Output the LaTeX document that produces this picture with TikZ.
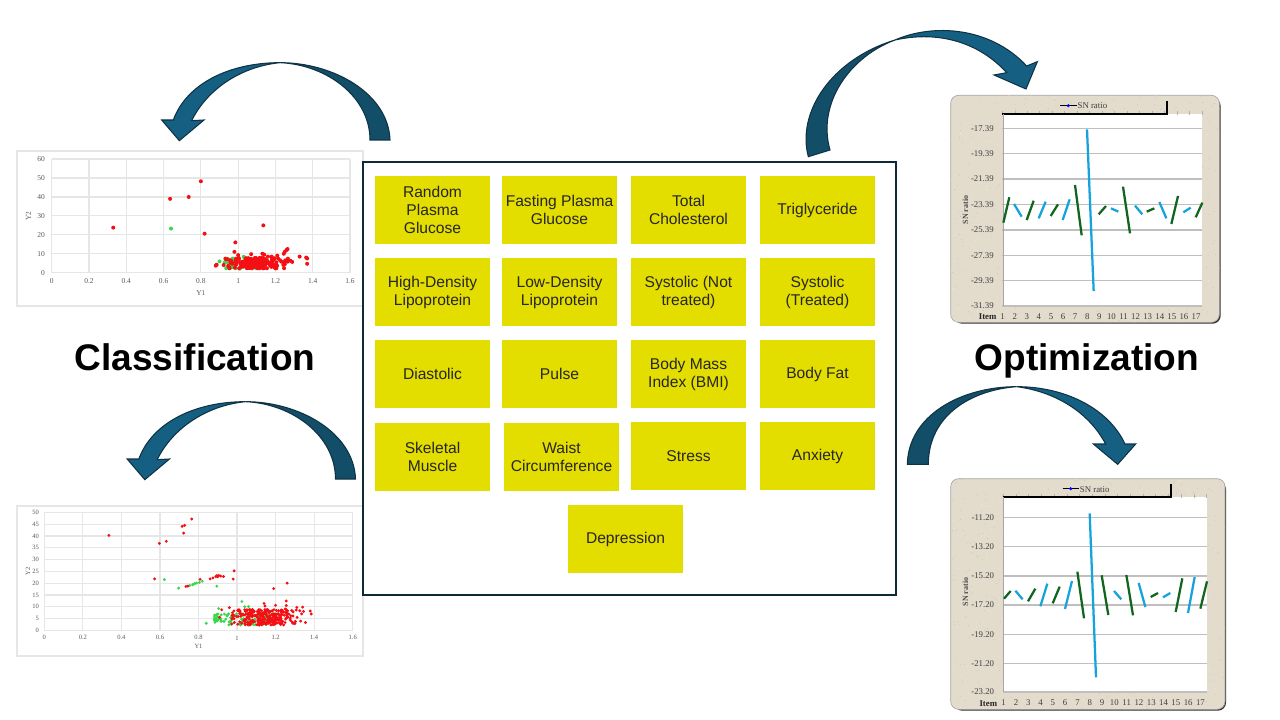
\documentclass[tikz,border=0pt]{standalone}
\usepackage{fontspec}
\setmainfont{Liberation Serif}
\newfontfamily\boxfont{Liberation Sans}
\definecolor{boxy}{HTML}{E3DD00}
\definecolor{framec}{HTML}{0E2A36}
\definecolor{arrowa}{HTML}{156082}
\definecolor{arrowb}{HTML}{134E69}
\definecolor{arrowe}{HTML}{0F3344}
\definecolor{beige}{HTML}{E3DBCC}
\definecolor{sng}{HTML}{11661F}
\definecolor{snb}{HTML}{16A3DC}
\definecolor{gridc}{HTML}{E6E6E6}
\definecolor{ptr}{HTML}{F50F14}
\definecolor{ptg}{HTML}{35D84A}
\tikzset{
  x=0.75pt,y=-0.75pt,
  itembox/.style={fill=boxy,draw=none,minimum width=86.25pt,minimum height=51pt,inner sep=0pt,align=center,text=black!85,
    font=\boxfont\fontsize{11.7}{13.5}\selectfont},
  bigtitle/.style={font=\boxfont\bfseries\fontsize{27.8}{30}\selectfont,text=black,inner sep=0pt,anchor=base},
  arrowhalf/.style={draw=arrowe,line width=0.8pt,line join=miter},
  chartframe/.style={fill=white,draw=gridc,line width=0.8pt},
  gridl/.style={draw=gridc,line width=0.9pt},
  ticklab/.style={font=\fontsize{5.6}{7}\selectfont,text=black!65,inner sep=0pt},
  ticklabb/.style={font=\fontsize{4.9}{6}\selectfont,text=black!65,inner sep=0pt},
  snlab/.style={font=\fontsize{6.6}{7}\selectfont,text=black!75,inner sep=0pt},
  snbold/.style={font=\bfseries\fontsize{6.6}{7}\selectfont,text=black!85,inner sep=0pt},
  snaxis/.style={font=\bfseries\fontsize{6}{7}\selectfont,text=black!70,inner sep=0pt,rotate=90},
  snseg/.style={line width=1.7pt},
  sngrid/.style={draw=black!25,line width=0.8pt},
  zoomed/.style={x=0.25pt,y=-0.25pt},
  redpt/.style={fill=ptr,draw=none},
  greenpt/.style={fill=ptg,draw=none},
}
\newcommand{\speckle}[5]{% x0 y0 w h seed
  \pgfmathsetseed{#5}
  \foreach \k in {1,...,900}{
    \pgfmathsetmacro\sx{#1+#3*rnd}
    \pgfmathsetmacro\sy{#2+#4*rnd}
    \pgfmathsetmacro\sc{rnd<0.5?1:0}
    \ifdim\sc pt>0.5pt
      \fill[black!12!beige] (\sx,\sy) circle (0.35pt);
    \else
      \fill[white!35!beige] (\sx,\sy) circle (0.4pt);
    \fi
  }
}
\begin{document}
\begin{tikzpicture}
\useasboundingbox (0,0) rectangle (1280,720);
\fill[white] (0,0) rectangle (1280,720);

% ---------- scatter chart 1
\node[chartframe,minimum width=259.5pt,minimum height=116.25pt,inner sep=0pt] (c1) at (190,228.5) {};
\begin{scope}[shift={(51.7,272.7)},x=139.83pt,y=1.42pt]
  \foreach \v in {0,0.2,...,1.6} \draw[gridl] (\v,0) -- (\v,60);
  \foreach \v in {0,10,...,60} \draw[gridl] (0,\v) -- (1.6,\v);
  \foreach \v/\n in {0/a0,0.2/a1,0.4/a2,0.6/a3,0.8/a4,1/a5,1.2/a6,1.4/a7,1.6/a8}
    \node[ticklab] (cax\n) at (\v,-4.6) {\v};
  \foreach \v in {0,10,...,60}
    \node[ticklab,anchor=east] (cay\v) at (-0.035,\v) {\v};
  \node[ticklab] (caxt) at (0.8,-11) {Y1};
  \node[ticklab,rotate=90] (cayt) at (-0.125,30) {Y2};
  \pgfmathsetseed{11}
  \foreach \k in {1,...,35}{
    \pgfmathsetmacro\px{0.92+0.2*rnd}\pgfmathsetmacro\py{2+5.8*rnd}
    \fill[greenpt] (\px,\py) circle (1.5pt);}
  \foreach \px/\py in {0.64/23.3,0.9/6,0.97/7.5,1.01/2.2,1.03/8.4}
    \fill[greenpt] (\px,\py) circle (1.5pt);
  \foreach \k in {1,...,170}{
    \pgfmathsetmacro\px{0.92+0.36*(rnd+rnd)/2}\pgfmathsetmacro\py{2.3+5.6*rnd}
    \fill[redpt] (\px,\py) circle (1.5pt);}
  \foreach \px/\py in {0.33/23.8,0.635/39,0.735/40,0.8/48.3,0.82/20.6,1.135/25,0.985/16,0.98/11,1.26/12,1.25/11,1.245/10,1.33/8.5,1.365/8,1.37/7.5,1.37/4.7,1.07/9.8,1.13/10,1.14/9.5,1/9.3,1.21/9,1.16/8.5,1.18/8.5,1.265/12.5,0.88/3.7,0.885/4.2,1.29/5.7,1.28/6.3,1.265/5.8,1.25/4.5}
    \fill[redpt] (\px,\py) circle (1.5pt);
\end{scope}

% ---------- scatter chart 2
\node[chartframe,minimum width=259.5pt,minimum height=112.5pt,inner sep=0pt] (c2) at (190,581) {};
\begin{scope}[shift={(44.3,630.3)},x=144.56pt,y=1.77pt]
  \foreach \v in {0,0.2,...,1.6} \draw[gridl] (\v,0) -- (\v,50);
  \foreach \v in {0,5,...,50} \draw[gridl] (0,\v) -- (1.6,\v);
  \foreach \v/\n in {0/a0,0.2/a1,0.4/a2,0.6/a3,0.8/a4,1/a5,1.2/a6,1.4/a7,1.6/a8}
    \node[ticklabb] (cbx\n) at (\v,-3.2) {\v};
  \foreach \v in {0,5,...,50}
    \node[ticklabb,anchor=east] (cby\v) at (-0.027,\v) {\v};
  \node[ticklabb] (cbxt) at (0.8,-7) {Y1};
  \node[ticklabb,rotate=90] (cbyt) at (-0.085,25) {Y2};
  \pgfmathsetseed{23}
  \foreach \k in {1,...,90}{
    \pgfmathsetmacro\px{0.88+0.33*rnd}\pgfmathsetmacro\py{2.2+5*rnd}
    \fill[greenpt] (\px,\py) circle (1.2pt);}
  \foreach \px/\py in {0.623/21.5,0.697/17.9,0.755/19,0.77/19.3,0.78/19.8,0.79/20,0.805/20.3,0.82/20.8,0.895/18.7,1.025/12.2,1.04/10,1.06/10,0.905/9.2,0.84/3,0.885/3.4}
    \fill[greenpt] (\px,\py) circle (1.2pt);
  \foreach \k in {1,...,280}{
    \pgfmathsetmacro\px{0.94+0.4*(rnd+rnd)/2}\pgfmathsetmacro\py{2.2+6.6*rnd}
    \fill[redpt] (\px,\py) circle (1.2pt);}
  \foreach \px/\py in {0.335/40.2,0.597/36.8,0.633/37.7,0.715/44,0.728/44.5,0.723/41.2,0.765/47.2,0.572/21.8,0.735/18.6,0.745/18.7,0.808/21.6,0.86/21.8,0.875/22.2,0.89/22.7,0.895/23.2,0.905/23.2,0.9/22.7,0.915/23,0.93/22.8,0.985/25.2,0.98/21.7,1.19/17.7,1.26/20,1.255/12.4,1.255/10.5,1.25/9,1.31/9.7,1.34/9.8,1.38/8.2,1.385/6.9,1.33/3.9,1.355/3.3,1.345/8,1.325/8.3,1.335/7,0.96/9.6,1.14/11.4,1.145/10.3,1.2/10.6,1.01/8.7,0.91/5.5,0.92/8.7,1.08/8.8,1.04/8.7}
    \fill[redpt] (\px,\py) circle (1.2pt);
\end{scope}

% ---------- central frame and boxes
\node[draw=framec,line width=1.5pt,fill=white,minimum width=399.75pt,minimum height=324.75pt,inner sep=0pt] (frame) at (629.5,378.5) {};
\node[itembox] (b1) at (432.5,210) {Random\\Plasma\\Glucose};
\node[itembox] (b2) at (559.5,210) {Fasting Plasma\\Glucose};
\node[itembox] (b3) at (688.5,210) {Total\\Cholesterol};
\node[itembox] (b4) at (817.5,210) {Triglyceride};
\node[itembox] (b5) at (432.5,292) {High-Density\\Lipoprotein};
\node[itembox] (b6) at (559.5,292) {Low-Density\\Lipoprotein};
\node[itembox] (b7) at (688.5,292) {Systolic (Not\\treated)};
\node[itembox] (b8) at (817.5,292) {Systolic\\(Treated)};
\node[itembox] (b9) at (432.5,374) {Diastolic};
\node[itembox] (b10) at (559.5,374) {Pulse};
\node[itembox] (b11) at (688.5,374) {Body Mass\\Index (BMI)};
\node[itembox] (b12) at (817.5,374) {Body Fat};
\node[itembox] (b13) at (432.5,457) {Skeletal\\Muscle};
\node[itembox] (b14) at (561.5,457) {Waist\\Circumference};
\node[itembox] (b15) at (688.5,456) {Stress};
\node[itembox] (b16) at (817.5,456) {Anxiety};
\node[itembox] (b17) at (625.5,539) {Depression};

% ---------- titles
\node[bigtitle] (t1) at (195,370) {Classification};
\node[bigtitle] (t2) at (1087,370) {Optimization};

% ---------- curved arrows
\begin{scope}[shift={(120,60)},zoomed]
  \filldraw[arrowhalf,fill=arrowb] (810,240) .. controls (805,100) and (640,8) .. (480,8) .. controls (620,14) and (750,110) .. (750,240) -- cycle;
  \filldraw[arrowhalf,fill=arrowa] (480,8) .. controls (330,8) and (200,70) .. (160,180) -- (125,180) -- (178,242) -- (252,180) -- (215,182) .. controls (260,90) and (360,20) .. (480,8) -- cycle;
\end{scope}
\begin{scope}[shift={(85.5,399)},zoomed]
  \filldraw[arrowhalf,fill=arrowb] (810,240) .. controls (805,100) and (640,8) .. (480,8) .. controls (620,14) and (750,110) .. (750,240) -- cycle;
  \filldraw[arrowhalf,fill=arrowa] (480,8) .. controls (330,8) and (200,70) .. (160,180) -- (125,180) -- (178,242) -- (252,180) -- (215,182) .. controls (260,90) and (360,20) .. (480,8) -- cycle;
\end{scope}
\begin{scope}[shift={(800,20)},zoomed]
  \filldraw[arrowhalf,fill=arrowb] (25,410) .. controls (-10,280) and (90,120) .. (285,60) .. controls (150,110) and (50,250) .. (90,390) -- cycle;
  \filldraw[arrowhalf,fill=arrowa] (285,60) .. controls (400,10) and (570,20) .. (680,138) -- (712,125) -- (678,207) -- (582,165) -- (620,158) .. controls (540,70) and (420,30) .. (285,60) -- cycle;
\end{scope}
\begin{scope}[shift={(895,375)},zoomed]
  \filldraw[arrowhalf,fill=arrowb] (37,268) .. controls (40,120) and (200,35) .. (365,35) .. controls (230,45) and (100,120) .. (100,268) -- cycle;
  \filldraw[arrowhalf,fill=arrowa] (365,35) .. controls (510,35) and (640,100) .. (690,207) -- (722,207) -- (668,268) -- (595,207) -- (632,207) .. controls (580,110) and (480,50) .. (365,35) -- cycle;
\end{scope}

% ---------- SN panel 1
\begin{scope}[shift={(940,90)},zoomed]
  \fill[black!80,rounded corners=6pt] (42,24) rectangle (842,701);
  \filldraw[fill=beige,draw=black!35,line width=0.5pt,rounded corners=6pt] (32,16) rectangle (838,697);
  \begin{scope}
    \clip[rounded corners=6pt] (32,16) rectangle (838,697);
    \speckle{32}{16}{806}{681}{5}
  \end{scope}
  \fill[white] (190,72) rectangle (787,648);
  \foreach \v in {1,...,17} \draw[black!30,line width=0.4pt] ({187+(\v-1)*37.4},62) -- ++(0,14);
  \draw[black,line width=1.5pt] (186,71) -- (682,71) -- (682,32);
  \draw[black,line width=1.2pt] (360,47) -- (410,47);
  \fill[blue] (385,47) circle (1.3pt);
  \node[snlab,anchor=west] (pl1) at (412,48) {SN ratio};
  \foreach \yy/\lab/\n in {115/-17.39/a,191/-19.39/b,267/-21.39/c,343/-23.39/d,420/-25.39/e,496/-27.39/f,571/-29.39/g,648/-31.39/h}{
    \draw[sngrid] (187,\yy) -- (787,\yy);
    \node[snlab,anchor=east] (py\n) at (162,\yy) {\lab};
  }
  \draw[black!35,line width=0.6pt] (189,72) -- (189,648);
  \foreach \c/\xa/\ya/\xb/\yb in {g/190/398/208/322,b/222/342/245/380,g/260/390/281/332,b/296/385/317/335,g/332/378/354/343,b/368/390/389/328,g/405/285/425/436,b/441/118/461/603,g/476/373/498/348,b/513/355/535/365,g/549/290/570/430,b/585/347/607/373,g/620/365/643/355,b/658/336/679/385,g/694/402/714/318,b/730/367/752/353,g/767/382/787/338}
    \draw[snseg,color=sn\c] (\xa,\ya) -- (\xb,\yb);
  \node[snbold] (pit) at (143,681) {Item};
  \foreach \v in {1,...,17}{
    \pgfmathsetmacro\lx{188+(\v-1)*36.25}
    \node[snlab] (px\v) at (\lx,679) {\v};
  }
  \node[snaxis] (pyt) at (76,360) {SN ratio};
\end{scope}

% ---------- SN panel 2
\begin{scope}[shift={(940,472)},zoomed]
  \fill[black!80,rounded corners=6pt] (42,28) rectangle (858,716);
  \filldraw[fill=beige,draw=black!35,line width=0.5pt,rounded corners=6pt] (32,20) rectangle (855,712);
  \begin{scope}
    \clip[rounded corners=6pt] (32,20) rectangle (855,712);
    \speckle{32}{20}{823}{692}{9}
  \end{scope}
  \fill[white] (190,75) rectangle (800,660);
  \foreach \v in {1,...,17} \draw[black!30,line width=0.4pt] ({190+(\v-1)*38.1},65) -- ++(0,14);
  \draw[black,line width=1.5pt] (188,74) -- (693,74) -- (693,35);
  \draw[black,line width=1.2pt] (368,50) -- (416,50);
  \fill[blue] (392,50) circle (1.3pt);
  \node[snlab,anchor=west] (ql1) at (419,52) {SN ratio};
  \foreach \yy/\lab/\n in {136/-11.20/a,224/-13.20/b,312/-15.20/c,399/-17.20/d,487/-19.20/e,574/-21.20/f,660/-23.20/g}{
    \draw[sngrid] (190,\yy) -- (800,\yy);
    \node[snlab,anchor=east] (qy\n) at (163,\yy) {\lab};
  }
  \draw[black!35,line width=0.6pt] (191,75) -- (191,660);
  \foreach \c/\xa/\ya/\xb/\yb in {g/192/380/212/357,b/226/356/248/382,g/264/388/286/350,b/301/403/322/335,g/338/394/359/344,b/375/411/396/327,g/412/299/432/439,b/449/124/468/616,g/485/310/505/429,b/522/357/544/382,g/559/309/579/430,b/596/333/616/405,g/632/375/654/363,b/669/376/691/363,g/707/420/727/319,b/744/423/764/315,g/781/410/801/328}
    \draw[snseg,color=sn\c] (\xa,\ya) -- (\xb,\yb);
  \node[snbold] (qit) at (145,695) {Item};
  \foreach \v in {1,...,17}{
    \pgfmathsetmacro\lx{191+(\v-1)*36.9}
    \node[snlab] (qx\v) at (\lx,693) {\v};
  }
  \node[snaxis] (qyt) at (76,360) {SN ratio};
\end{scope}
\end{tikzpicture}
\end{document}
